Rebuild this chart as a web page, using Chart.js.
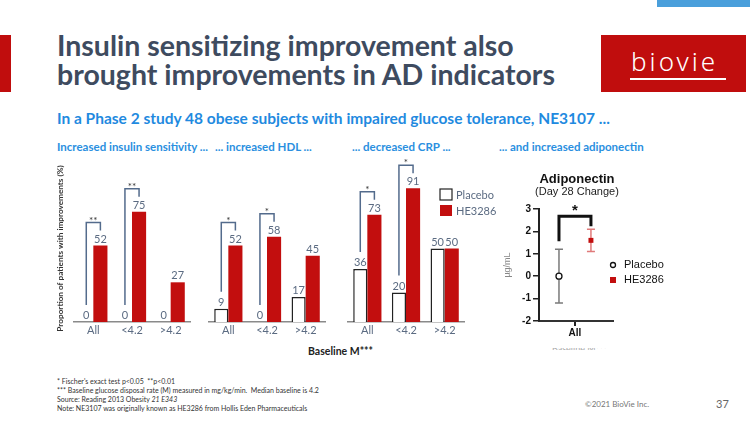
<!DOCTYPE html>
<html>
<head>
<meta charset="utf-8">
<script src="https://cdn.jsdelivr.net/npm/chart.js@4.4.1/dist/chart.umd.min.js"></script>
<style>
  body { margin: 0; background: #fff; font-family: "Lato", sans-serif; }
  #slide { position: relative; width: 750px; height: 422px; overflow: hidden; background: #fff; }
  .abs { position: absolute; white-space: nowrap; }
  .topBlue { left: 657px; top: 0; width: 93px; height: 7px; background: #4a9fdb; }
  .leftRed { left: 0; top: 35px; width: 11px; height: 57px; background: #c00d0d; }
  h1 { position: absolute; left: 57px; top: 31px; margin: 0; font-size: 28.5px; line-height: 29px; font-weight: 700; color: #3e4b5f; }
  .logo { left: 601px; top: 35px; width: 145px; height: 57px; background: #c00d0d; }
  .logo span { position: absolute; left: 30px; top: 8px; color: #fff; font-family: "Noto Sans", sans-serif; font-weight: 300; font-size: 26px; letter-spacing: 3px; }
  .logo i { position: absolute; left: 29px; top: 43px; width: 96px; height: 2px; background: #fff; }
  .sub { left: 57px; top: 109px; font-size: 15.5px; font-weight: 700; color: #1f8ae0; }
  .sec { top: 140px; font-size: 11.5px; font-weight: 700; color: #2a8fe0; }
  .axisName { left: 308px; top: 345px; font-size: 10.5px; font-weight: 700; color: #222; }
  .ghost { left: 552px; top: 348px; height: 2px; overflow: hidden; }
  .ghost span { display: block; margin-top: -5px; font-size: 9px; color: #aaa; }
  .notes { left: 57px; top: 377px; font-size: 7px; line-height: 9px; color: #333; }
  .copy { left: 585px; top: 399px; font-size: 8px; color: #777; }
  .page { left: 716px; top: 397px; font-size: 11px; color: #666; }
  canvas { position: absolute; }
</style>
</head>
<body>
<div id="slide">
  <div class="abs topBlue"></div>
  <div class="abs leftRed"></div>
  <h1>Insulin sensitizing improvement also<br>brought improvements in AD indicators</h1>
  <div class="abs logo"><span>biovie</span><i></i></div>
  <div class="abs sub">In a Phase 2 study 48 obese subjects with impaired glucose tolerance, NE3107 ...</div>
  <div class="abs sec" style="left:57px">Increased insulin sensitivity ...</div>
  <div class="abs sec" style="left:215px">... increased HDL ...</div>
  <div class="abs sec" style="left:352px">... decreased CRP ...</div>
  <div class="abs sec" style="left:499px">... and increased adiponectin</div>
  <div class="abs axisName">Baseline M***</div>
  <div class="abs ghost"><span>Baseline M***</span></div>
  <div class="abs notes">* Fischer's exact test p&lt;0.05 &nbsp;**p&lt;0.01<br>*** Baseline glucose disposal rate (M) measured in mg/kg/min. &nbsp;Median baseline is 4.2<br>Source: Reading 2013 Obesity <i>21 E343</i><br>Note: NE3107 was originally known as HE3286 from Hollis Eden Pharmaceuticals</div>
  <div class="abs copy">©2021 BioVie Inc.</div>
  <div class="abs page">37</div>

  <canvas id="insulinChart" width="140" height="200" style="left:55px;top:150px"></canvas>
  <canvas id="hdlChart" width="126" height="200" style="left:204px;top:150px"></canvas>
  <canvas id="crpChart" width="166" height="200" style="left:343px;top:150px"></canvas>
  <canvas id="adipoChart" width="200" height="185" style="left:495px;top:165px"></canvas>
</div>

<script>
// categories (baseline M)
const groups = ["All", "<4.2", ">4.2"];

// % of patients with improvement
const insulinPlacebo = [0, 0, 0];
const insulinHE = [52, 75, 27];
const insulinSig = ["**", "**", ""];

const hdlPlacebo = [9, 0, 17];
const hdlHE = [52, 58, 45];
const hdlSig = ["*", "*", ""];

const crpPlacebo = [36, 20, 50];
const crpHE = [73, 91, 50];
const crpSig = ["*", "*", ""];

// adiponectin, day 28 change (ug/mL)
const adipoGroups = ["Placebo", "HE3286"];
const adipoMean = [0, 1.6];
const adipoLow = [-1.2, 1.1];
const adipoHigh = [1.2, 2.1];
const adipoTicks = [-2, -1, 0, 1, 2, 3];

const RED = "#c20e0e";
const SLATE = "#5b6b82";
const BRACKET = "#536b8c";

Chart.defaults.font.family = "Lato";
Chart.defaults.animation = false;

// value labels, significance brackets and (optionally) legend
const barExtras = {
  id: "barExtras",
  afterDatasetsDraw(chart, args, opts) {
    const ctx = chart.ctx;
    const p = chart.getDatasetMeta(0).data;
    const h = chart.getDatasetMeta(1).data;
    ctx.save();
    ctx.font = "11px Lato";
    ctx.fillStyle = SLATE;
    ctx.textAlign = "center";
    ctx.textBaseline = "bottom";
    chart.data.datasets.forEach((ds, d) => {
      chart.getDatasetMeta(d).data.forEach((bar, i) => {
        ctx.fillText(ds.data[i], bar.x, bar.y - 1);
      });
    });

    // brackets
    ctx.strokeStyle = BRACKET;
    ctx.lineWidth = 1.5;
    opts.sig.forEach((s, i) => {
      if (!s) return;
      const top = h[i].y - 23;
      ctx.beginPath();
      ctx.moveTo(p[i].x, p[i].y - 17);
      ctx.lineTo(p[i].x, top);
      ctx.lineTo(h[i].x, top);
      ctx.lineTo(h[i].x, h[i].y - 15);
      ctx.stroke();
      ctx.fillStyle = "#333";
      ctx.font = "10px Lato";
      ctx.textBaseline = "alphabetic";
      ctx.fillText(s, (p[i].x + h[i].x) / 2, top + 1);
    });

    if (opts.legend) {
      const a = chart.chartArea;
      ctx.font = "11px Lato";
      ctx.textAlign = "left";
      ctx.textBaseline = "middle";
      chart.data.datasets.forEach((ds, d) => {
        const x = a.right - 24, y = a.top + 14 + d * 16;
        ctx.fillStyle = ds.backgroundColor;
        ctx.fillRect(x, y, 12, 11);
        if (d === 0) {
          ctx.strokeStyle = "#222";
          ctx.lineWidth = 1.2;
          ctx.strokeRect(x, y, 12, 11);
        }
        ctx.fillStyle = SLATE;
        ctx.fillText(ds.label, x + 16, y + 6);
      });
    }
    ctx.restore();
  }
};

function drawBarChart(canvasId, placebo, he, sig, opts) {
  const ctx = document.getElementById(canvasId).getContext("2d");
  new Chart(ctx, {
    type: "bar",
    data: {
      labels: groups,
      datasets: [{
        label: "Placebo",
        data: placebo,
        backgroundColor: "#ffffff",
        borderColor: "#222",
        borderWidth: c => (c.raw === 0 ? 0 : 1.5),
        borderSkipped: "bottom"
      }, {
        label: "HE3286",
        data: he,
        backgroundColor: RED,
        borderWidth: 0
      }]
    },
    options: {
      responsive: false,
      categoryPercentage: 0.73,
      barPercentage: 1.0,
      layout: { padding: { left: opts.yTitle ? 0 : 5, right: opts.legend ? 45 : 5, top: 25, bottom: 10 } },
      plugins: {
        legend: { display: false },
        tooltip: { enabled: false },
        barExtras: { sig: sig, legend: !!opts.legend }
      },
      scales: {
        x: {
          grid: { display: false, drawTicks: false },
          border: { display: true, color: "#8a8a8a", width: 1.5 },
          ticks: { color: SLATE, font: { size: 11 }, padding: 2 },
          afterFit: s => { s.height = 18; }
        },
        y: {
          display: !!opts.yTitle,
          min: 0,
          max: 100,
          grid: { display: false },
          border: { display: false },
          ticks: { display: false },
          title: {
            display: !!opts.yTitle,
            text: "Proportion of patients with improvements (%)",
            color: "#333",
            font: { size: 8.2, weight: "bold" },
            padding: 0
          },
          afterFit: s => { s.width = opts.yTitle ? 19 : 0; }
        }
      }
    },
    plugins: [barExtras]
  });
}

drawBarChart("insulinChart", insulinPlacebo, insulinHE, insulinSig, { yTitle: true });
drawBarChart("hdlChart", hdlPlacebo, hdlHE, hdlSig, {});
drawBarChart("crpChart", crpPlacebo, crpHE, crpSig, { legend: true });

// adiponectin: error bars, bracket, title and legend
const adipoExtras = {
  id: "adipoExtras",
  beforeDatasetsDraw(chart) {
    const ctx = chart.ctx, ys = chart.scales.y;
    const cols = ["#7a7a7a", "#e07a7a"];
    ctx.save();
    ctx.lineWidth = 1.5;
    chart.data.datasets.forEach((ds, d) => {
      const pt = chart.getDatasetMeta(d).data[0];
      const y1 = ys.getPixelForValue(adipoLow[d]);
      const y2 = ys.getPixelForValue(adipoHigh[d]);
      ctx.strokeStyle = cols[d];
      ctx.beginPath();
      ctx.moveTo(pt.x, y1); ctx.lineTo(pt.x, y2);
      ctx.moveTo(pt.x - 4, y1); ctx.lineTo(pt.x + 4, y1);
      ctx.moveTo(pt.x - 4, y2); ctx.lineTo(pt.x + 4, y2);
      ctx.stroke();
    });
    ctx.restore();
  },
  afterDatasetsDraw(chart) {
    const ctx = chart.ctx, ys = chart.scales.y, a = chart.chartArea;
    const p = chart.getDatasetMeta(0).data[0];
    const h = chart.getDatasetMeta(1).data[0];
    const mid = (a.left + a.right) / 2;
    ctx.save();
    // bracket
    const top = ys.getPixelForValue(adipoHigh[1]) - 13;
    ctx.strokeStyle = "#111";
    ctx.lineWidth = 3;
    ctx.beginPath();
    ctx.moveTo(p.x, ys.getPixelForValue(adipoHigh[0]) - 8);
    ctx.lineTo(p.x, top);
    ctx.lineTo(h.x, top);
    ctx.lineTo(h.x, ys.getPixelForValue(adipoHigh[1]) - 3);
    ctx.stroke();
    ctx.fillStyle = "#111";
    ctx.textAlign = "center";
    ctx.font = "bold 15px 'Liberation Sans'";
    ctx.textBaseline = "alphabetic";
    ctx.fillText("*", (p.x + h.x) / 2, top - 1);

    // title
    ctx.font = "bold 13px 'Liberation Sans'";
    ctx.fillText("Adiponectin", mid + 1, a.top - 26);
    ctx.font = "11px 'Liberation Sans'";
    ctx.fillStyle = "#222";
    ctx.fillText("(Day 28 Change)", mid + 1, a.top - 14);

    // legend
    ctx.textAlign = "left";
    ctx.textBaseline = "middle";
    ctx.font = "11px 'Liberation Sans'";
    chart.data.datasets.forEach((ds, d) => {
      const x = a.right, y = ys.getPixelForValue(0.5) + d * 15;
      if (d === 0) {
        ctx.beginPath();
        ctx.arc(x, y, 2.5, 0, Math.PI * 2);
        ctx.fillStyle = "#fff"; ctx.fill();
        ctx.strokeStyle = "#111"; ctx.lineWidth = 1.3; ctx.stroke();
      } else {
        ctx.fillStyle = RED;
        ctx.fillRect(x - 3, y - 3, 6, 6);
      }
      ctx.fillStyle = "#111";
      ctx.fillText(ds.label, x + 11, y);
    });
    ctx.restore();
  }
};

new Chart(document.getElementById("adipoChart").getContext("2d"), {
  type: "scatter",
  data: {
    datasets: adipoGroups.map((g, i) => ({
      label: g,
      data: [{ x: i === 0 ? -0.5 : 0.5, y: adipoMean[i] }],
      pointStyle: i === 0 ? "circle" : "rect",
      pointRadius: i === 0 ? 3 : 3.5,
      backgroundColor: i === 0 ? "#fff" : RED,
      borderColor: i === 0 ? "#111" : RED,
      borderWidth: i === 0 ? 1.3 : 0
    }))
  },
  options: {
    responsive: false,
    layout: { padding: { left: 0, right: 82, top: 44, bottom: 9 } },
    plugins: { legend: { display: false }, tooltip: { enabled: false } },
    scales: {
      x: {
        type: "linear",
        min: -1.125,
        max: 1.19,
        afterBuildTicks: s => { s.ticks = [{ value: 0 }]; },
        ticks: { callback: () => "All", color: "#111", font: { size: 10, weight: "bold", family: "Liberation Sans" }, padding: 1 },
        grid: { drawOnChartArea: false, drawTicks: true, tickLength: 5, color: "#222", lineWidth: 2 },
        border: { display: true, color: "#333", width: 2 },
        afterFit: s => { s.height = 20; }
      },
      y: {
        min: -2,
        max: 3,
        afterBuildTicks: s => { s.ticks = adipoTicks.map(v => ({ value: v })); },
        ticks: { color: "#111", font: { size: 10, weight: "bold", family: "Liberation Sans" }, padding: 2 },
        grid: { drawOnChartArea: false, drawTicks: true, tickLength: 6, color: "#222", lineWidth: 1.5 },
        border: { display: true, color: "#222", width: 2 },
        title: { display: true, text: "µg/mL", color: "#888", font: { size: 9, family: "Liberation Sans" }, padding: { top: 7, bottom: 0 } },
        afterFit: s => { s.width = 44; }
      }
    }
  },
  plugins: [adipoExtras]
});
</script>
</body>
</html>
